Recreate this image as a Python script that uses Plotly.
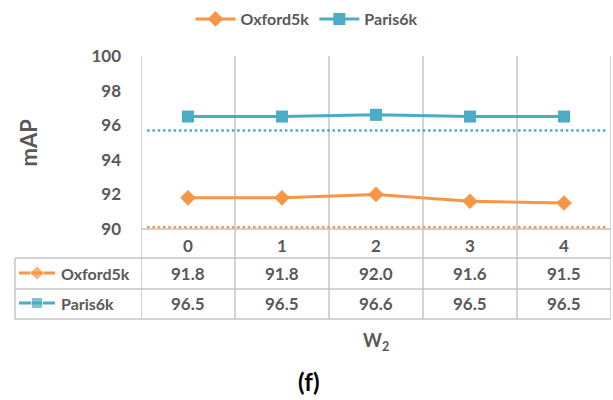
import plotly.graph_objects as go

# ---- data ----
categories = ["0", "1", "2", "3", "4"]
oxford = [91.8, 91.8, 92.0, 91.6, 91.5]
paris = [96.5, 96.5, 96.6, 96.5, 96.5]
oxford_baseline = 90.1
paris_baseline = 95.7
series_names = ["Oxford5k", "Paris6k"]
y_ticks = [90, 92, 94, 96, 98, 100]

# ---- style ----
W, H = 613, 400
ORANGE = "#F79646"
TEAL = "#4BACC6"
TXT = "#595959"
GRID = "#C4C4C4"
FONT = "Lato"

def px_x(p):
    return p / W

def px_y(p):
    return 1 - p / H

plot_l, plot_r, plot_t, plot_b = 141, 611, 56, 229
row_tops = [258, 289, 319]
table_left = 15

xs = list(range(len(categories)))

fig = go.Figure()
fig.add_trace(go.Scatter(
    x=xs, y=oxford, name=series_names[0], mode="lines+markers",
    line=dict(color=ORANGE, width=3),
    marker=dict(symbol="diamond", size=12, color=ORANGE),
))
fig.add_trace(go.Scatter(
    x=xs, y=paris, name=series_names[1], mode="lines+markers",
    line=dict(color=TEAL, width=3),
    marker=dict(symbol="square", size=12, color=TEAL),
))

# legend keys in the data table (overlay pixel axes)
key_rows = [(273, ORANGE, "diamond", 11), (303, TEAL, "square", 11)]
for (yy, col, sym, sz) in key_rows:
    fig.add_trace(go.Scatter(
        x=[19, 37, 55], y=[yy, yy, yy], mode="lines+markers",
        line=dict(color=col, width=3),
        marker=dict(symbol=sym, size=[0, sz, 0], color=col),
        xaxis="x2", yaxis="y2", showlegend=False, hoverinfo="skip",
    ))

shapes = []
line_style = dict(color=GRID, width=1.5)
for i in range(len(categories) + 1):
    shapes.append(dict(type="line", xref="x", yref="paper",
                       x0=i - 0.5, x1=i - 0.5,
                       y0=px_y(row_tops[-1]), y1=px_y(plot_t), line=line_style, layer="below"))
shapes.append(dict(type="line", xref="x", yref="paper",
                   x0=-0.5, x1=len(categories) - 0.5,
                   y0=px_y(plot_b), y1=px_y(plot_b), line=line_style, layer="below"))
for r in row_tops:
    shapes.append(dict(type="line", xref="paper", yref="paper",
                       x0=px_x(table_left), x1=px_x(plot_r),
                       y0=px_y(r), y1=px_y(r), line=line_style, layer="below"))
shapes.append(dict(type="line", xref="paper", yref="paper",
                   x0=px_x(table_left), x1=px_x(table_left),
                   y0=px_y(row_tops[-1]), y1=px_y(row_tops[0]), line=line_style, layer="below"))
for val, col in [(oxford_baseline, ORANGE), (paris_baseline, TEAL)]:
    shapes.append(dict(type="line", xref="x domain", yref="y",
                       x0=0.013, x1=0.99, y0=val, y1=val,
                       line=dict(color=col, width=2.5, dash="2.5px,2.8px"), layer="below"))

NUM_FONT = dict(family=FONT, size=17, color=TXT, weight="bold")
NAME_FONT = dict(family=FONT, size=16, color=TXT, weight="bold")

annotations = []
row_centers = [273, 303]
for vals, yc in [(oxford, row_centers[0]), (paris, row_centers[1])]:
    for i, v in enumerate(vals):
        annotations.append(dict(x=i, y=px_y(yc), xref="x", yref="paper",
                                text=f"{v:.1f}", showarrow=False, font=NUM_FONT,
                                xanchor="center", yanchor="middle"))
for name, yc in zip(series_names, row_centers):
    annotations.append(dict(x=px_x(59), y=px_y(yc), xref="paper", yref="paper",
                            text=name, showarrow=False, font=NAME_FONT,
                            xanchor="left", yanchor="middle"))
annotations.append(dict(x=0.5, y=px_y(341), xref="x domain", yref="paper",
                        text="W<sub>2</sub>", showarrow=False,
                        font=dict(family=FONT, size=18, color=TXT, weight="bold"),
                        xanchor="center", yanchor="middle"))
annotations.append(dict(x=px_x(309), y=px_y(381), xref="paper", yref="paper",
                        text="(f)", showarrow=False,
                        font=dict(family=FONT, size=24, color="black", weight="bold"),
                        xanchor="center", yanchor="middle"))
annotations.append(dict(x=px_x(28), y=0.5 * (px_y(plot_t) + px_y(plot_b)),
                        xref="paper", yref="paper", text="mAP", textangle=-90,
                        showarrow=False,
                        font=dict(family=FONT, size=22, color=TXT, weight="bold"),
                        xanchor="center", yanchor="middle"))

fig.update_layout(
    width=W, height=H,
    margin=dict(l=0, r=0, t=0, b=0, autoexpand=False),
    paper_bgcolor="white", plot_bgcolor="rgba(0,0,0,0)",
    font=dict(family=FONT, color=TXT),
    showlegend=True,
    legend=dict(orientation="h", x=0.5, xanchor="center", y=px_y(2), yanchor="top",
                font=dict(family=FONT, size=16, color=TXT, weight="bold"),
                itemwidth=40, bgcolor="rgba(0,0,0,0)"),
    xaxis=dict(domain=[px_x(plot_l), px_x(plot_r)], range=[-0.5, len(categories) - 0.5],
               tickvals=xs, ticktext=categories, showgrid=False, zeroline=False,
               showline=False, ticks="", ticklabelstandoff=5, automargin=False,
               tickfont=NUM_FONT, fixedrange=True),
    yaxis=dict(domain=[px_y(plot_b), px_y(plot_t)], range=[90, 100],
               tickvals=y_ticks, showgrid=False, zeroline=False, showline=False,
               ticks="", ticklabelstandoff=19, automargin=False,
               tickfont=NUM_FONT, fixedrange=True),
    xaxis2=dict(domain=[0, 1], range=[0, W], visible=False, anchor="y2",
                fixedrange=True, automargin=False),
    yaxis2=dict(domain=[0, 1], range=[H, 0], visible=False, anchor="x2",
                fixedrange=True, automargin=False),
    shapes=shapes,
    annotations=annotations,
)

fig.write_html("out.html", config={"displayModeBar": False},
               post_script="document.body.style.margin='0';document.body.style.overflow='hidden';")
